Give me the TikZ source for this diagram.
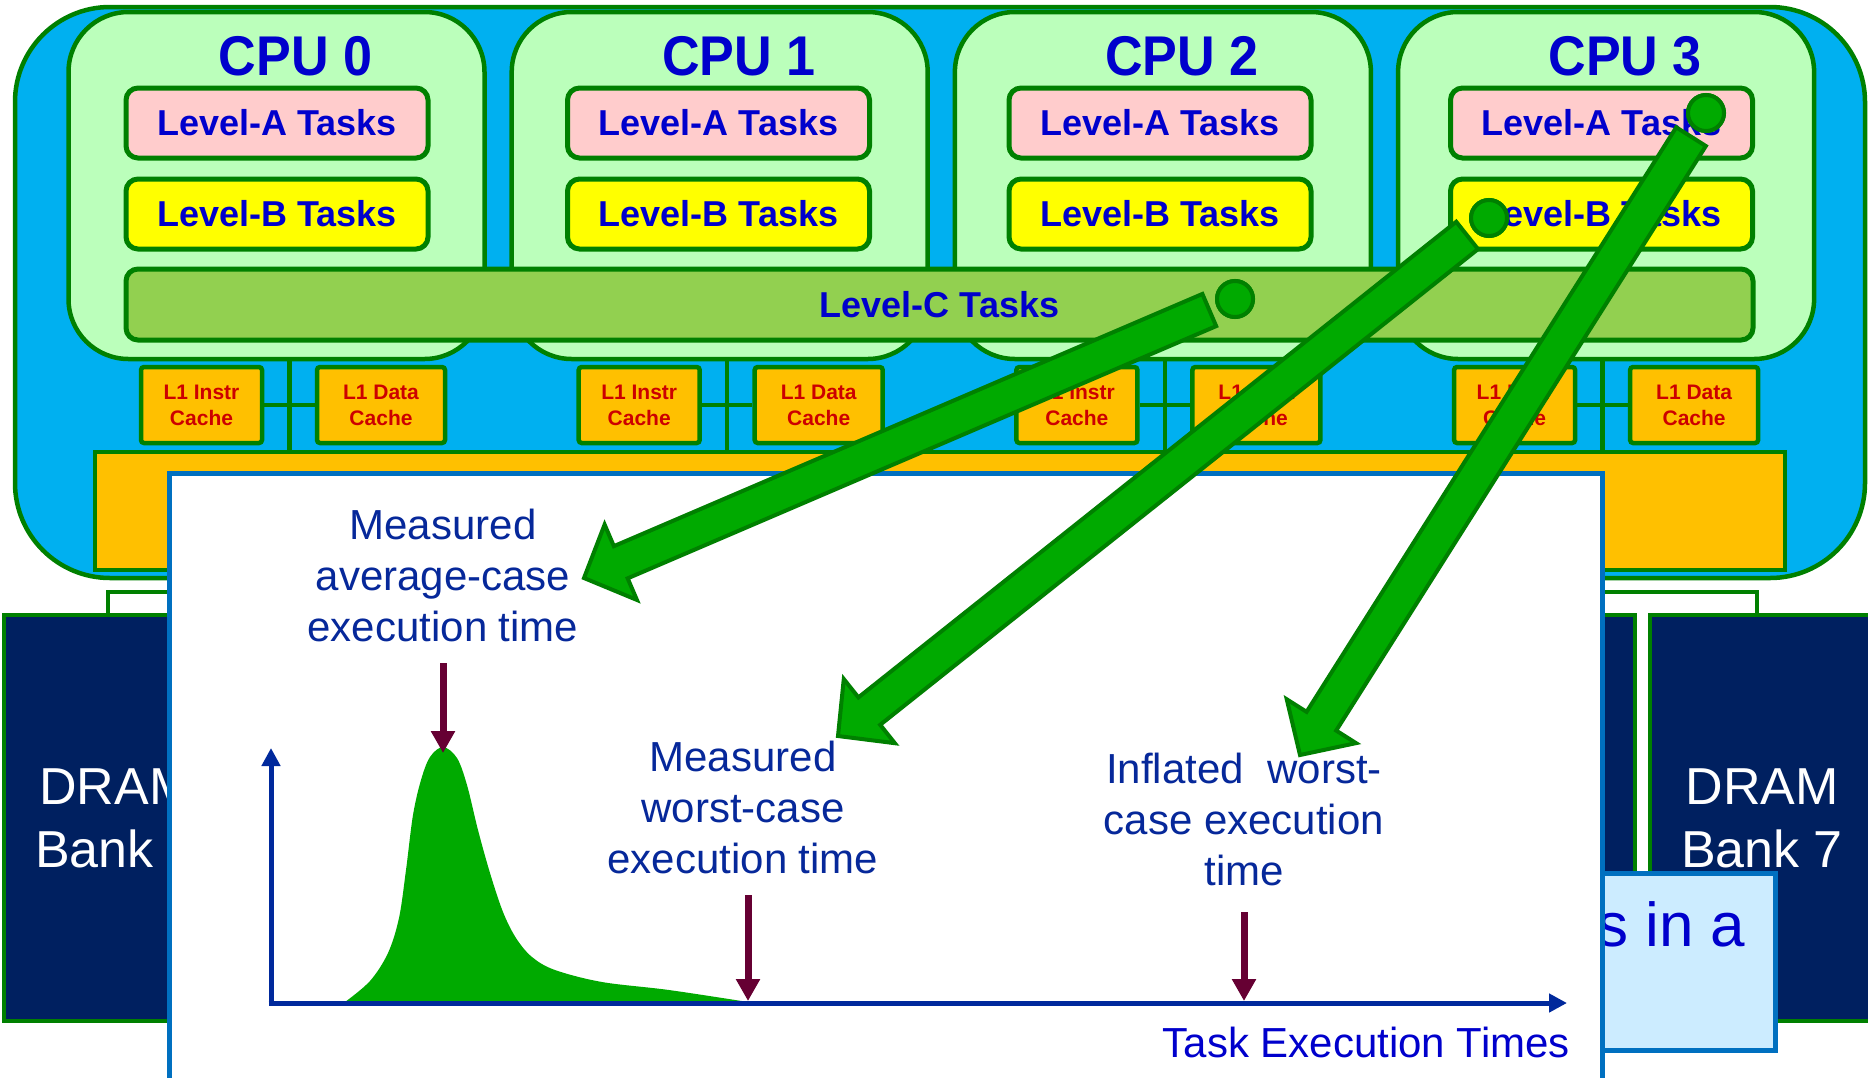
\documentclass[tikz,border=0pt]{standalone}
\usepackage{fontspec}
\setmainfont{Liberation Sans}
\newfontfamily\cpufont{Liberation Sans}[FakeStretch=0.93]
\usetikzlibrary{calc,arrows.meta}
\definecolor{grn}{HTML}{008000}
\definecolor{blueb}{HTML}{00B0F0}
\definecolor{cpuf}{HTML}{BBFFBB}
\definecolor{pinkA}{HTML}{FFCCCC}
\definecolor{yelB}{HTML}{FFFF00}
\definecolor{lvlc}{HTML}{92D050}
\definecolor{tblue}{HTML}{0000CC}
\definecolor{orng}{HTML}{FFC000}
\definecolor{cred}{HTML}{CC0000}
\definecolor{navy}{HTML}{002060}
\definecolor{wblue}{HTML}{0070C0}
\definecolor{lightb}{HTML}{CCECFF}
\definecolor{axblue}{HTML}{00299C}
\definecolor{lblue}{HTML}{06289A}
\definecolor{maroon}{HTML}{660033}
\definecolor{agreen}{HTML}{00AA00}
\newcommand\drawblockarrow[2]{%
  \coordinate (#1-s) at ($(#1.center)!28pt!(#2)$);
  \coordinate (#1-h) at ($(#2)!40pt!(#1-s)$);
  \draw[bigarrow] ($(#1-s)!17.5pt!90:(#2)$) -- ($(#1-h)!17.5pt!-90:(#1-s)$)
    -- ($(#1-h)!41pt!-90:(#1-s)$) -- (#2) -- ($(#1-h)!41pt!90:(#1-s)$)
    -- ($(#1-h)!17.5pt!90:(#1-s)$) -- ($(#1-s)!17.5pt!-90:(#2)$) -- cycle;
}
\begin{document}
\begin{tikzpicture}[x=1pt,y=-1pt,
  gb/.style={draw=grn, line width=4.5pt},
  gline/.style={draw=grn, line width=4.5pt},
  cpubox/.style={gb, fill=cpuf, rounded corners=60pt, minimum width=416pt, minimum height=347pt, inner sep=0pt},
  cputitle/.style={font=\cpufont\bfseries\fontsize{56}{60}\selectfont, text=tblue, anchor=base, inner sep=0pt},
  taskbox/.style={draw=grn, line width=5pt, rounded corners=12pt, minimum width=302pt, minimum height=70pt, inner sep=0pt, font=\bfseries\fontsize{36}{40}\selectfont, text=tblue},
  cachebox/.style={draw=grn, line width=4.5pt, fill=orng, rounded corners=3pt, minimum height=76pt, inner sep=0pt, align=center, font=\bfseries\fontsize{21}{26}\selectfont, text=cred},
  dram/.style={draw=grn, line width=4.5pt, fill=navy, minimum width=224pt, minimum height=406pt, inner sep=0pt, align=center, text=white, font=\fontsize{52}{63}\selectfont},
  lbl/.style={align=center, text=lblue, font=\fontsize{42}{51}\selectfont, inner sep=0pt},
  axisline/.style={draw=axblue, line width=5pt, -{Triangle[width=18pt,length=18pt]}},
  tickarrow/.style={draw=maroon, line width=7pt, -{Triangle[width=23pt,length=22pt]}},
  bigarrow/.style={fill=agreen, draw=grn, line width=4pt, line join=miter},
  dot/.style={circle, fill=agreen, draw=grn, line width=4pt, minimum size=36pt, inner sep=0pt}
]
\useasboundingbox (0,0) rectangle (1868,1077);
\fill[white] (0,0) rectangle (1868,1077);

% memory bus
\draw[gb, fill=white] (108,617) -- (108,592) -- (1757,592) -- (1757,617);
% DRAM banks
\node[dram] (dram0) at (116,818) {DRAM\\Bank 0};
\node[dram] (dram6) at (1523,818) {DRAM\\Bank 6};
\node[dram] (dram7) at (1762,818) {DRAM\\Bank 7};

% outer chip
\node[gb, fill=blueb, rounded corners=95pt, minimum width=1850pt, minimum height=571pt, inner sep=0pt] (outer) at (940,292.5) {};

% CPUs
\foreach \i in {0,...,3} {
  \node[cpubox] (cpu\i) at ({276.5+443.2*\i},185.5) {};
  \node[cputitle] (title\i) at ({295.5+443.2*\i},75) {CPU \i};
  \node[taskbox, fill=pinkA] (la\i) at ({277+441.5*\i},123) {Level-A Tasks};
  \node[taskbox, fill=yelB] (lb\i) at ({277+441.5*\i},214) {Level-B Tasks};
}
\node[taskbox, fill=lvlc, minimum width=1627pt, minimum height=71pt] (lc) at (939.5,304.5) {Level-C Tasks};

% bus
\node[gb, fill=orng, minimum width=1690pt, minimum height=118pt, inner sep=0pt] (bus) at (940,511) {};

% caches
\foreach \i in {0,...,3} {
  \node[cachebox, minimum width=121pt] (ic\i) at ({201.5+437.7*\i},405) {L1 Instr\\Cache};
  \node[cachebox, minimum width=128pt] (dc\i) at ({381+437.7*\i},405) {L1 Data\\Cache};
  \coordinate (mid\i) at ($(ic\i.east)!0.5!(dc\i.west)$);
  \draw[gline] (mid\i |- cpu\i.south) -- (mid\i |- bus.north);
  \draw[gline] (ic\i.east) -- (dc\i.west);
}

% light blue title fragment
\node[draw=wblue, line width=5pt, fill=lightb, minimum width=325pt, minimum height=177pt, inner sep=0pt] (lbbox) at (1612.5,961.5) {};
\node[anchor=base west, text=tblue, font=\fontsize{62}{70}\selectfont, inner sep=0pt] (frag) at (1597,946) {s in a};

% white plot box
\node[draw=wblue, line width=5pt, fill=white, minimum width=1433pt, minimum height=640pt, inner sep=0pt] (plotbox) at (885.5,793) {};

% distribution
\fill[agreen] plot[smooth, tension=0.55] coordinates {(345,1002) (370,981) (388,953) (399,918) (406,870) (413,815) (421,780) (430,757) (443,747) (457,758) (467,785) (478,830) (490,873) (503,912) (516,938) (532,957) (555,970) (602,982) (669,990) (748,1002)} -- cycle;

% axes
\coordinate (org) at (271,1003);
\coordinate (ytip) at (271,748);
\coordinate (xtip) at (1567,1003);
\draw[axisline] (org) -- (ytip);
\draw[axisline] ([xshift=-2.5pt]org) -- (xtip);

% maroon arrows
\coordinate (a1s) at (443,663); \coordinate (a1t) at (443,753);
\coordinate (a2s) at (748,895); \coordinate (a2t) at (748,1001);
\coordinate (a3s) at (1244,912); \coordinate (a3t) at (1244,1001);
\draw[tickarrow] (a1s) -- (a1t);
\draw[tickarrow] (a2s) -- (a2t);
\draw[tickarrow] (a3s) -- (a3t);

% labels
\node[lbl] (lavg) at (443,575) {Measured\\average-case\\execution time};
\node[lbl] (lmeas) at (743,807) {Measured\\worst-case\\execution time};
\node[lbl] (linfl) at (1244,819) {Inflated~~worst-\\case execution\\time};
\node[anchor=base east, inner sep=0pt, text=tblue, font=\fontsize{42}{51}\selectfont] (xlabel) at (1570,1057) {Task Execution Times};

% green block arrows
\node[dot] (c1) at (1235,299) {};
\node[dot] (c2) at (1489,218) {};
\node[dot] (c3) at (1706,113) {};
\coordinate (t1) at (584,578);
\coordinate (t2) at (838,736);
\coordinate (t3) at (1300,755);
\drawblockarrow{c1}{t1}
\drawblockarrow{c2}{t2}
\drawblockarrow{c3}{t3}
\node[dot] at (c1) {};
\node[dot] at (c2) {};
\node[dot] at (c3) {};
\end{tikzpicture}
\end{document}
